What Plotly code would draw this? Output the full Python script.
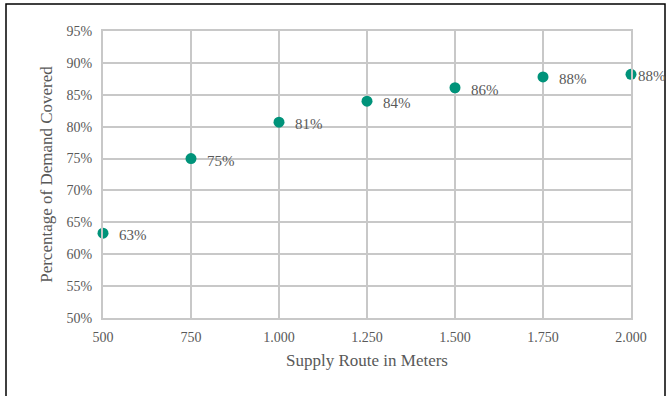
import plotly.graph_objects as go

route_m = [500, 750, 1000, 1250, 1500, 1750, 2000]
demand_pct = [63.3, 75.0, 80.7, 84.0, 86.1, 87.8, 88.2]
labels = ["63%", "75%", "81%", "84%", "86%", "88%", "88%"]
x_ticks = [500, 750, 1000, 1250, 1500, 1750, 2000]
x_tick_text = ["500", "750", "1.000", "1.250", "1.500", "1.750", "2.000"]
y_ticks = [50, 55, 60, 65, 70, 75, 80, 85, 90, 95]
y_tick_text = ["50%", "55%", "60%", "65%", "70%", "75%", "80%", "85%", "90%", "95%"]

FONT = "Liberation Serif, Times New Roman, serif"
GRAY = "#595959"

fig = go.Figure()
fig.add_trace(go.Scatter(
    x=route_m, y=demand_pct, mode="markers",
    marker=dict(color="#00937a", size=11),
    cliponaxis=False, showlegend=False, hoverinfo="skip",
))

for i, (x, y, t) in enumerate(zip(route_m, demand_pct, labels)):
    last = i == len(route_m) - 1
    fig.add_annotation(
        x=x, y=y, text=t, showarrow=False, xanchor="left", yanchor="middle",
        xshift=5 if last else 14, yshift=-2,
        font=dict(family=FONT, size=15, color=GRAY),
    )

fig.update_layout(
    width=671, height=396,
    margin=dict(l=103, r=40, t=31, b=78),
    paper_bgcolor="white", plot_bgcolor="white",
    font=dict(family=FONT, size=14, color=GRAY),
    xaxis=dict(
        range=[500, 2000], tickvals=x_ticks, ticktext=x_tick_text,
        showgrid=True, gridcolor="#c8c8c8", gridwidth=2,
        showline=True, linecolor="#c8c8c8", linewidth=2, mirror=True,
        zeroline=False, ticks="", ticklabelstandoff=5,
        tickfont=dict(family=FONT, size=14, color=GRAY),
        title=dict(text="Supply Route in Meters", standoff=10,
                   font=dict(family=FONT, size=17, color=GRAY)),
    ),
    yaxis=dict(
        range=[50, 95], tickvals=y_ticks, ticktext=y_tick_text,
        showgrid=True, gridcolor="#c8c8c8", gridwidth=2,
        showline=True, linecolor="#c8c8c8", linewidth=2, mirror=True,
        zeroline=False, ticks="", ticklabelstandoff=6,
        tickfont=dict(family=FONT, size=14, color=GRAY),
        title=dict(text="Percentage of Demand Covered", standoff=10,
                   font=dict(family=FONT, size=17, color=GRAY)),
    ),
)

fig.add_shape(type="rect", xref="paper", yref="paper",
              x0=(6 - 103) / 528, x1=(665 - 103) / 528,
              y0=-0.5, y1=(318 - 4) / 287,
              line=dict(color="#000000", width=1.5), layer="below")

fig.write_html("out.html", config={"displayModeBar": False},
               post_script="document.body.style.margin='0';document.body.style.overflow='hidden';")
